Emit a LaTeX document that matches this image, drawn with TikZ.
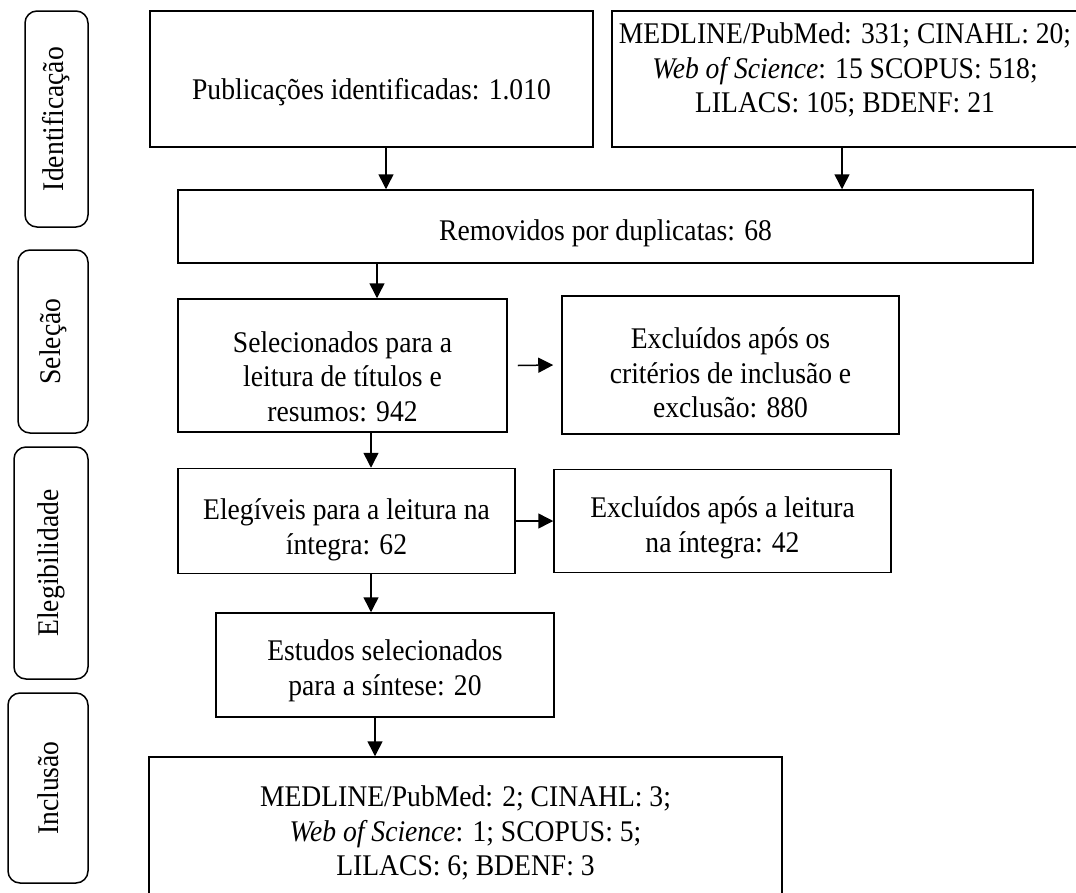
\documentclass[tikz,border=0pt]{standalone}
\usepackage{fontspec}
\setmainfont{Liberation Serif}[FakeStretch=0.92]
\usetikzlibrary{arrows.meta}

\begin{document}
\begin{tikzpicture}[x=1pt, y=-1pt,
    caixa/.style={draw, line width=1.5pt, inner sep=0pt},
    texto/.style={align=center, inner sep=0pt, font=\fontsize{30}{34.5}\selectfont},
    etapa/.style={draw, line width=1.5pt, rounded corners=12pt, rotate=90, inner sep=0pt, font=\fontsize{30}{34.5}\selectfont},
    seta/.style={line width=1.5pt, -{Triangle[width=15pt,length=15pt]}}]
    \useasboundingbox (0,0) rectangle (1076,892);
    \clip (0,0) rectangle (1076,892);

    % Etapas
    \node[etapa, minimum width=216pt, minimum height=63pt] (ident) at (56.5,119) {Identificação};
    \node[etapa, minimum width=183pt, minimum height=70pt] (selec) at (53,341.5) {Seleção};
    \node[etapa, minimum width=232pt, minimum height=74pt] (elegi) at (51,563) {Elegibilidade};
    \node[etapa, minimum width=190pt, minimum height=80pt] (inclu) at (48,788) {Inclusão};

    % Identificação
    \node[caixa, minimum width=443pt, minimum height=136pt,
        label={[texto, yshift=-13pt]center:{Publicações identificadas: 1.010}}] (pub) at (371.5,79) {};
    \node[caixa, minimum width=466pt, minimum height=136pt,
        label={[texto, yshift=9pt]center:{MEDLINE/PubMed: 331; CINAHL: 20;\\\textit{Web of Science}: 15 SCOPUS: 518;\\LILACS: 105; BDENF: 21}}] (bases) at (845,79) {};
    \node[caixa, minimum width=855pt, minimum height=73pt,
        label={[texto, yshift=-7pt]center:{Removidos por duplicatas: 68}}] (dup) at (605.5,226.5) {};

    % Seleção
    \node[caixa, minimum width=329pt, minimum height=133pt,
        label={[texto, yshift=-11pt]center:{Selecionados para a\\leitura de títulos e\\resumos: 942}}] (sel) at (342.5,365.5) {};
    \node[caixa, minimum width=337pt, minimum height=138pt,
        label={[texto, yshift=-8pt]center:{Excluídos após os\\critérios de inclusão e\\exclusão: 880}}] (exc1) at (730.5,365) {};

    % Elegibilidade
    \node[caixa, minimum width=337pt, minimum height=105pt,
        label={[texto, yshift=-9pt]center:{Elegíveis para a leitura na\\íntegra: 62}}] (eleg) at (346.5,521) {};
    \node[caixa, minimum width=337pt, minimum height=103pt,
        label={[texto, yshift=-7pt]center:{Excluídos após a leitura\\na íntegra: 42}}] (exc2) at (722.5,521) {};
    \node[caixa, minimum width=338pt, minimum height=104pt,
        label={[texto, yshift=-6pt]center:{Estudos selecionados\\para a síntese: 20}}] (sint) at (385,665) {};

    % Inclusão
    \node[caixa, minimum width=633pt, minimum height=152pt,
        label={[texto]center:{MEDLINE/PubMed: 2; CINAHL: 3;\\\textit{Web of Science}: 1; SCOPUS: 5;\\LILACS: 6; BDENF: 3}}] (incl) at (465.5,833) {};

    % Setas
    \draw[seta] ([xshift=14.5pt]pub.south) -- ([xshift=14.5pt]pub.south |- dup.north);
    \draw[seta] ([xshift=-3pt]bases.south) -- ([xshift=-3pt]bases.south |- dup.north);
    \draw[seta] ([xshift=34.5pt]sel.north |- dup.south) -- ([xshift=34.5pt]sel.north);
    \draw[seta] ([xshift=10pt]sel.east) -- ([xshift=-8pt]exc1.west);
    \draw[seta] ([xshift=28.5pt]sel.south) -- ([xshift=28.5pt]sel.south |- eleg.north);
    \draw[seta] (eleg.east) -- (exc2.west);
    \draw[seta] ([xshift=24.5pt]eleg.south) -- ([xshift=24.5pt]eleg.south |- sint.north);
    \draw[seta] ([xshift=-10pt]sint.south) -- ([xshift=-10pt]sint.south |- incl.north);
\end{tikzpicture}
\end{document}
